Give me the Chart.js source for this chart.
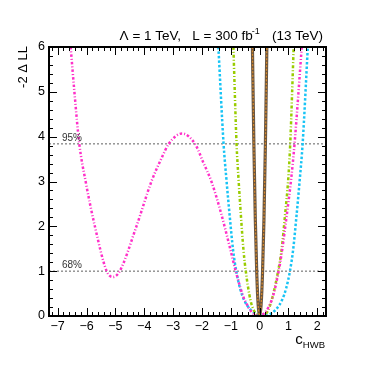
<!DOCTYPE html>
<html>
<head>
<meta charset="utf-8">
<script src="https://cdn.jsdelivr.net/npm/chart.js@4/dist/chart.umd.min.js"></script>
<style>
  html, body { margin: 0; padding: 0; background: #fff; }
  #wrap { width: 374px; height: 365px; }
</style>
</head>
<body>
<div id="wrap"><canvas id="chart" width="374" height="365"></canvas></div>
<script>
// values
const xTicks = [-7, -6, -5, -4, -3, -2, -1, 0, 1, 2];
const yTicks = [0, 1, 2, 3, 4, 5, 6];
const clLevels = [1, 3.84];
const clLabels = ["68%", "95%"];

const magentaX = [-6.55, -6.42, -6.25, -6.03, -5.71, -5.3, -5.08, -4.85, -4.27, -3.75, -3.4, -3.15, -2.69, -2.24, -1.95, -1.66, -1.34, -1.02, -0.83, -0.52, -0.05, 0.42, 0.66, 0.78, 0.94, 1.09, 1.21, 1.46];
const magentaY = [6, 5, 3.84, 3, 2, 1, 0.87, 1, 2, 3, 3.52, 3.84, 4.07, 3.84, 3.42, 2.98, 2.3, 1.5, 1, 0.36, 0, 0.36, 1, 1.47, 2.25, 3.04, 3.84, 6];

const cyanX = [-1.43, -1.25, -1.15, -1.04, -0.92, -0.81, -0.68, -0.54, -0.33, -0.12, 0.12, 0.36, 0.57, 0.78, 0.92, 1.05, 1.16, 1.28, 1.39, 1.49, 1.67];
const cyanY = [6, 3.84, 3.04, 2.25, 1.47, 1, 0.62, 0.36, 0.15, 0.04, 0, 0.04, 0.15, 0.36, 0.62, 1, 1.47, 2.25, 3.04, 3.84, 6];

const greenX = [-0.91, -0.8, -0.73, -0.65, -0.56, -0.48, -0.32, -0.18, 0.05, 0.27, 0.42, 0.64, 0.76, 0.88, 0.99, 1.06, 1.18];
const greenY = [6, 3.84, 3.04, 2.25, 1.47, 1, 0.36, 0.1, 0, 0.1, 0.36, 1, 1.47, 2.25, 3.04, 3.84, 6];

const brownX = [-0.25, -0.2, -0.15, -0.1, -0.05, 0, 0.05, 0.1, 0.15, 0.2, 0.25];
const brownY = [6, 3.84, 2.16, 0.96, 0.24, 0, 0.24, 0.96, 2.16, 3.84, 6];

const toPts = (xs, ys) => xs.map((x, i) => ({ x: x, y: ys[i] }));
const FONT = "'Liberation Sans', Arial, Helvetica, sans-serif";

function curve(xs, ys, color, width, dash, order) {
  return {
    data: toPts(xs, ys),
    borderColor: color,
    borderWidth: width,
    borderDash: dash,
    pointRadius: 0,
    cubicInterpolationMode: "monotone",
    fill: false,
    order: order
  };
}

const datasets = [
  curve(brownX, brownY, "#d98a2a", 1.2, [2, 1.5], 0),
  curve(brownX, brownY, "#6b5640", 3.2, [], 1),
  curve(magentaX, magentaY, "#ff2fc8", 2.5, [2.5, 2, 1, 2], 2),
  curve(greenX, greenY, "#99cc00", 2.5, [3, 2, 1, 2], 3),
  curve(cyanX, cyanY, "#18c4f5", 2.5, [2.5, 2], 4)
];
clLevels.forEach(lv => {
  datasets.push({
    data: [{ x: -7.3, y: lv }, { x: 2.3, y: lv }],
    borderColor: "#7a7a7a",
    borderWidth: 1.2,
    borderDash: [2, 2],
    pointRadius: 0,
    order: 10
  });
});

// ROOT style frame, ticks and texts
const rootFrame = {
  id: "rootFrame",
  afterDraw(chart) {
    const ctx = chart.ctx;
    const a = chart.chartArea;
    const xs = chart.scales.x, ys = chart.scales.y;
    ctx.save();
    ctx.strokeStyle = "#000";
    ctx.lineWidth = 1;
    ctx.beginPath();
    for (let i = -36; i <= 11; i++) {
      const v = i / 5;
      const px = Math.round(xs.getPixelForValue(v)) + 0.5;
      const len = (i % 5 === 0) ? 8 : 4;
      ctx.moveTo(px, a.bottom); ctx.lineTo(px, a.bottom - len);
      ctx.moveTo(px, a.top); ctx.lineTo(px, a.top + len);
    }
    for (let i = 0; i <= 30; i++) {
      const v = i / 5;
      const py = Math.round(ys.getPixelForValue(v)) + 0.5;
      const len = (i % 5 === 0) ? 8 : 4;
      ctx.moveTo(a.left, py); ctx.lineTo(a.left + len, py);
      ctx.moveTo(a.right, py); ctx.lineTo(a.right - len, py);
    }
    ctx.stroke();
    ctx.lineWidth = 2;
    ctx.strokeRect(a.left, a.top, a.right - a.left, a.bottom - a.top);

    ctx.fillStyle = "#000";
    ctx.font = "12.5px " + FONT;
    ctx.textAlign = "center";
    ctx.textBaseline = "middle";
    xTicks.forEach(v => {
      ctx.fillText(String(v).replace("-", "\u2212"), xs.getPixelForValue(v), 327);
    });
    ctx.textAlign = "right";
    yTicks.forEach(v => {
      ctx.fillText(String(v), 45, ys.getPixelForValue(v));
    });

    // CL labels
    ctx.fillStyle = "#333";
    ctx.font = "10px " + FONT;
    ctx.textAlign = "left";
    ctx.textBaseline = "alphabetic";
    clLevels.forEach((lv, i) => {
      ctx.fillText(clLabels[i], 62, ys.getPixelForValue(lv) - 3);
    });

    // header
    ctx.fillStyle = "#000";
    const big = "13.5px " + FONT, sup = "9px " + FONT;
    const part1 = "\u039B = 1 TeV,   L = 300 fb";
    const part3 = "   (13 TeV)";
    ctx.font = sup;
    const wSup = ctx.measureText("-1").width;
    ctx.font = big;
    const w1 = ctx.measureText(part1).width;
    const w3 = ctx.measureText(part3).width;
    const x0 = 323 - (w1 + wSup + w3);
    ctx.fillText(part1, x0, 40);
    ctx.font = sup;
    ctx.fillText("-1", x0 + w1 - 1, 34);
    ctx.font = big;
    ctx.fillText(part3, x0 + w1 + wSup, 40);

    // x title
    ctx.font = "15px " + FONT;
    const wc = ctx.measureText("c").width;
    ctx.font = "9.5px " + FONT;
    const wsub = ctx.measureText("HWB").width;
    const xt = 325 - wc - wsub;
    ctx.font = "15px " + FONT;
    ctx.fillText("c", xt, 344);
    ctx.font = "9.5px " + FONT;
    ctx.fillText("HWB", xt + wc, 348);

    // y title
    ctx.translate(27, 46);
    ctx.rotate(-Math.PI / 2);
    ctx.font = "13px " + FONT;
    ctx.textAlign = "right";
    ctx.fillText("-2 \u0394 LL", 0, 0);
    ctx.restore();
  }
};

new Chart(document.getElementById("chart"), {
  type: "line",
  data: { datasets: datasets },
  options: {
    responsive: false,
    animation: false,
    devicePixelRatio: 1,
    layout: { padding: { left: 49, right: 48, top: 47, bottom: 49 } },
    plugins: { legend: { display: false }, tooltip: { enabled: false } },
    scales: {
      x: { type: "linear", min: -7.3, max: 2.3, display: false },
      y: { type: "linear", min: 0, max: 6, display: false }
    }
  },
  plugins: [rootFrame]
});
</script>
</body>
</html>
